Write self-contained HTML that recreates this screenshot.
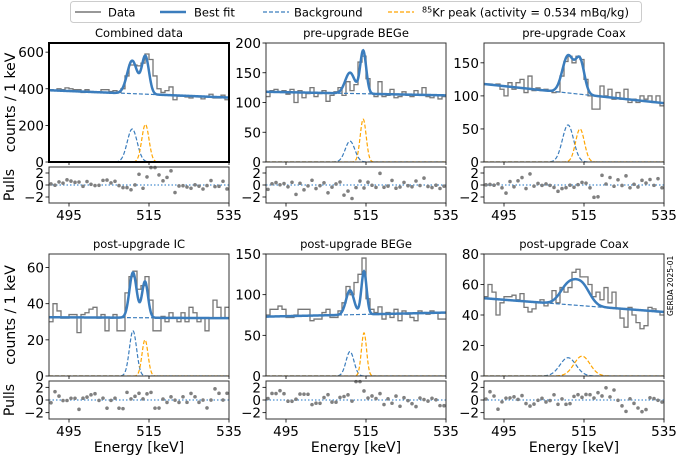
<!DOCTYPE html>
<html><head><meta charset="utf-8">
<style>
html,body{margin:0;padding:0;background:#fff;}
svg{display:block;font-family:"DejaVu Sans","Liberation Sans",sans-serif;}
</style></head>
<body>
<svg id="fig" width="677" height="457" viewBox="0 0 677 457" xmlns="http://www.w3.org/2000/svg">
  <g>
    <rect x="70.5" y="1.5" width="571" height="21" rx="3" fill="#fff" stroke="#cccccc"/>
    <line x1="75" y1="12" x2="101" y2="12" stroke="#777" stroke-width="1.5"/>
    <text x="108" y="16.5" font-size="11.5">Data</text>
    <line x1="160" y1="12" x2="186" y2="12" stroke="#3b7dbd" stroke-width="2.5"/>
    <text x="194" y="16.5" font-size="11.5">Best fit</text>
    <line x1="263" y1="12" x2="289" y2="12" stroke="#3b7dbd" stroke-width="1.2" stroke-dasharray="4,2"/>
    <text x="294" y="16.5" font-size="11.5">Background</text>
    <line x1="388" y1="12" x2="414" y2="12" stroke="#ffa500" stroke-width="1.2" stroke-dasharray="4,2"/>
    <text x="422" y="16.5" font-size="11.5"><tspan font-size="8" dy="-4">85</tspan><tspan dy="4">Kr peak (activity = 0.534 mBq/kg)</tspan></text>
  </g>
  <text x="0" y="0" font-size="7.5" transform="translate(673,316) rotate(-90)">GERDA 2025-01</text>
  <g id="panels"></g>
</svg>
<script>
// ---- data ----
const titles = ["Combined data","pre-upgrade BEGe","pre-upgrade Coax","post-upgrade IC","post-upgrade BEGe","post-upgrade Coax"];
const yMaxes = [650,200,180,67.5,150,80];
const yTicks = [[0,200,400,600],[0,50,100,150,200],[0,50,100,150],[0,20,40,60],[0,50,100,150],[0,20,40,60,80]];
const xTicks = [495,515,535];
const pullTicks = [-2,0,2];
// background linear: value at 490 and at 535
const bgStart = [392,118,118,32.5,73,51];
const bgEnd = [352,112,89,32,78,42];
// 511 keV gaussian (amplitude, center, sigma)
const annAmp = [180,35,56,25,30,12];
const annMu = [510.8,511,511,511,511,511];
const annSig = [1.25,1.2,1.4,0.9,1.0,2.0];
// Kr-85 gaussian
const krAmp = [205,72,50,20,53,13];
const krMu = [514.1,514.3,514,514,514.5,514.5];
const krSig = [0.9,0.75,1.1,0.75,0.65,2.0];
// counts per 1 keV bin, 490..535
const counts0 = [395,390,400,395,405,400,395,395,380,395,385,380,380,395,395,385,390,380,400,470,530,530,525,540,590,560,470,400,380,390,410,340,360,360,355,350,360,355,345,355,370,350,350,365,340];
const counts1 = [110,120,122,118,120,114,122,100,120,108,115,125,110,115,120,102,112,118,125,112,135,120,130,168,178,140,115,110,135,110,112,122,108,110,118,112,110,120,112,125,110,108,112,106,110];
const counts2 = [118,118,116,118,110,100,120,110,120,125,105,130,108,112,108,110,107,105,106,130,152,160,150,160,155,125,100,80,80,115,100,110,95,105,95,110,90,95,90,100,95,100,90,100,85];
const counts3 = [30,40,36,32,32,34,34,24,34,35,37,38,32,34,25,32,34,25,25,46,55,58,48,50,55,42,25,25,33,30,35,32,30,35,30,38,35,30,32,25,32,42,38,32,38];
const counts4 = [75,82,82,86,82,72,72,75,82,82,82,68,70,70,78,82,72,72,80,90,110,100,115,125,145,95,82,78,85,70,78,72,82,68,80,76,72,68,80,78,76,80,78,70,70];
const counts5 = [52,60,55,40,48,52,52,53,50,54,45,42,44,48,50,46,48,56,48,58,55,58,68,70,65,65,60,52,55,50,58,48,55,44,38,32,45,40,35,31,33,45,44,42,40];
const allCounts = [counts0,counts1,counts2,counts3,counts4,counts5];

// ---- layout ----
const NS = "http://www.w3.org/2000/svg";
const XMIN = 490, XMAX = 535;
const colL = [49,266,484], colW = 180;
const rowMain = [[43,162],[254,376]];
const rowPull = [[167,203],[381,419]];
const BLUE = "#3b7dbd", ORANGE = "#ffa500";
const root = document.getElementById("panels");

function el(tag, attrs, parent){
  const e = document.createElementNS(NS, tag);
  for (const k in attrs) e.setAttribute(k, attrs[k]);
  parent.appendChild(e);
  return e;
}
function gauss(x, a, m, s){ return a*Math.exp(-0.5*((x-m)/s)*((x-m)/s)); }

for (let p = 0; p < 6; p++){
  const c = p % 3, r = Math.floor(p/3);
  const x0 = colL[c], x1 = x0 + colW;
  const [my0, my1] = rowMain[r];
  const [py0, py1] = rowPull[r];
  const sx = v => x0 + (v - XMIN) / (XMAX - XMIN) * colW;
  const sy = v => my1 - v / yMaxes[p] * (my1 - my0);
  const sp = v => (py0+py1)/2 - v / 3 * (py1 - py0) / 2;
  const bg = x => bgStart[p] + (bgEnd[p]-bgStart[p]) * (x - XMIN)/(XMAX - XMIN);
  const ann = x => gauss(x, annAmp[p], annMu[p], annSig[p]);
  const kr = x => gauss(x, krAmp[p], krMu[p], krSig[p]);
  const fit = x => bg(x) + ann(x) + kr(x);

  const g = el("g", {}, root);
  
  

  const clipId = "clip" + p;
  const cp = el("clipPath", {id: clipId}, g);
  el("rect", {x: x0, y: my0, width: colW, height: my1-my0}, cp);

  const t = el("text", {x: x0 + colW/2, y: my0 - 6, "font-size": 11.5, "text-anchor": "middle"}, g);
  t.textContent = titles[p];
  
  

  const plot = el("g", {"clip-path": "url(#" + clipId + ")"}, g);

  const cts = allCounts[p];
  let d = "";
  for (let i = 0; i < cts.length; i++){
    const xa = sx(XMIN + i), xb = sx(XMIN + i + 1), y = sy(cts[i]);
    d += (i === 0 ? "M" : "L") + xa.toFixed(2) + "," + y.toFixed(2) + "L" + xb.toFixed(2) + "," + y.toFixed(2);
  }
  const hist = el("path", {d: d, fill: "none", stroke: "#777", "stroke-width": 1.3}, plot);
  
  

  function curve(fn, attrs, name){
    let s = "";
    for (let k = 0; k <= 450; k++){
      const x = XMIN + k * (XMAX - XMIN) / 450;
      s += (k ? "L" : "M") + sx(x).toFixed(2) + "," + sy(fn(x)).toFixed(2);
    }
    const e = el("path", Object.assign({d: s, fill: "none"}, attrs), plot);
    
    
  }
  curve(bg, {stroke: BLUE, "stroke-width": 1.2, "stroke-dasharray": "4,2"}, 'background-curve');
  curve(ann, {stroke: BLUE, "stroke-width": 1.2, "stroke-dasharray": "4,2"}, 'annihilation-peak');
  curve(kr, {stroke: ORANGE, "stroke-width": 1.2, "stroke-dasharray": "4,2"}, 'kr85-peak');
  curve(fit, {stroke: BLUE, "stroke-width": 2.5}, 'best-fit-curve');

  const fr = el("rect", {x: x0, y: my0, width: colW, height: my1-my0, fill: "none",
    stroke: p === 0 ? "#000" : "#333", "stroke-width": p === 0 ? 2 : 1}, g);
  
  

  yTicks[p].forEach(v => {
    const y = sy(v);
    el("line", {x1: x0-3.5, y1: y, x2: x0, y2: y, stroke: "#000", "stroke-width": 0.8}, g);
    const tl = el("text", {x: x0 - 5, y: y + 5, "font-size": 13.5, "text-anchor": "end"}, g);
    tl.textContent = String(v);
    
    
  });
  xTicks.forEach(v => {
    el("line", {x1: sx(v), y1: my1, x2: sx(v), y2: my1+3, stroke: "#000", "stroke-width": 0.8}, g);
  });

  const pg = el("g", {}, g);
  
  
  el("line", {x1: x0, y1: sp(0), x2: x1, y2: sp(0), stroke: "#4a8fd0", "stroke-width": 1.2, "stroke-dasharray": "1.5,2"}, pg);
  for (let i = 0; i < cts.length; i++){
    const xc = XMIN + i + 0.5;
    const f = fit(xc);
    let pv = (cts[i] - f) / Math.sqrt(f);
    pv = Math.max(-2.9, Math.min(2.9, pv));
    const dot = el("circle", {cx: sx(xc), cy: sp(pv), r: 1.8, fill: "#808080"}, pg);
    
    
  }
  el("rect", {x: x0, y: py0, width: colW, height: py1-py0, fill: "none", stroke: "#333", "stroke-width": 1}, pg);
  pullTicks.forEach(v => {
    const y = sp(v);
    el("line", {x1: x0-3.5, y1: y, x2: x0, y2: y, stroke: "#000", "stroke-width": 0.8}, pg);
    const tl = el("text", {x: x0 - 5, y: y + 5, "font-size": 13.5, "text-anchor": "end"}, pg);
    tl.textContent = v < 0 ? "\u2212" + Math.abs(v) : String(v);
    
    
  });
  xTicks.forEach(v => {
    el("line", {x1: sx(v), y1: py1, x2: sx(v), y2: py1+3.5, stroke: "#000", "stroke-width": 0.8}, pg);
    const tl = el("text", {x: sx(v), y: py1 + 17, "font-size": 13.5, "text-anchor": "middle"}, pg);
    tl.textContent = String(v);
    
    
  });

  if (c === 0){
    const yl = el("text", {x: 0, y: 0, "font-size": 14, "text-anchor": "middle",
      transform: "translate(15," + ((my0+my1)/2) + ") rotate(-90)"}, g);
    yl.textContent = "counts / 1 keV";
    
    
    const pl = el("text", {x: 0, y: 0, "font-size": 14, "text-anchor": "middle",
      transform: "translate(14," + ((py0+py1)/2) + ") rotate(-90)"}, g);
    pl.textContent = "Pulls";
    
    
  }
  if (r === 1){
    const xl = el("text", {x: x0 + colW/2, y: 452, "font-size": 14, "text-anchor": "middle"}, g);
    xl.textContent = "Energy [keV]";
    
    
  }
}
</script>
</body></html>
